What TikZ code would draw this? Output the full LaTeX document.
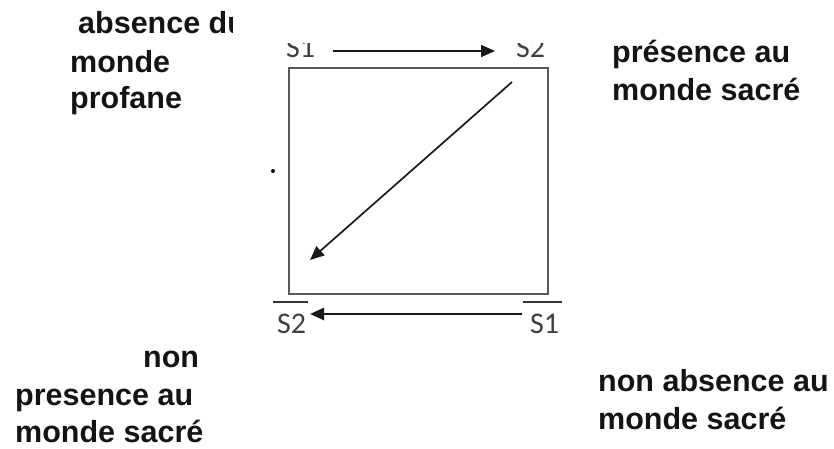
\documentclass[tikz,border=0pt]{standalone}
\usepackage{fontspec}
\setmainfont{Liberation Sans}
\newfontfamily\calfont{Carlito}
\usetikzlibrary{arrows.meta}
\begin{document}
\begin{tikzpicture}[x=1pt,y=-1pt,
  lbl/.style={anchor=base west,inner sep=0pt,font=\fontsize{30.5}{36}\selectfont\bfseries,text=black!92},
  slbl/.style={anchor=base west,inner sep=0pt,font=\calfont\fontsize{30}{34}\selectfont,text=black!75},
  arr/.style={-{Triangle[length=14pt,width=12pt]},line width=1.7pt,draw=black!90},
  boxst/.style={draw=black!65,line width=2.3pt},
  bar/.style={draw=black!80,line width=1.7pt}]
\useasboundingbox (0,0) rectangle (834,448);

% square
\draw[boxst] (289,68) rectangle (548,294);

% top labels (clipped at top as in the reference)
\begin{scope}
  \clip (0,43) rectangle (834,448);
  \node[slbl] (s1t) at (286,57) {S1};
  \node[slbl] (s2t) at (516,57) {S2};
\end{scope}
\coordinate (ta) at (333,51);
\coordinate (tb) at (495,51);
\draw[arr] (ta) -- (tb);

% diagonal arrow
\coordinate (da) at (512,82);
\coordinate (db) at (310,260);
\draw[arr] (da) -- (db);

% bottom labels with bars
\node[slbl] (s2b) at (277,333) {S2};
\node[slbl] (s1b) at (530,333) {S1};
\draw[bar] (273,302) -- (308,302);
\draw[bar] (523,302) -- (562,302);
\coordinate (ba) at (522,314);
\coordinate (bb) at (310,314);
\draw[arr,line width=2.6pt] (ba) -- (bb);

% corner texts
\begin{scope}
  \clip (0,0) rectangle (232,448);
  \node[lbl] (tl1) at (78,33) {absence du};
\end{scope}
\node[lbl] (tl2) at (70,72) {monde};
\node[lbl] (tl3) at (70,108) {profane};

\node[lbl] (tr1) at (612,62) {présence au};
\node[lbl] (tr2) at (612,100) {monde sacré};

\node[lbl] (bl1) at (143,367) {non};
\node[lbl] (bl2) at (15,405) {presence au};
\node[lbl] (bl3) at (15,442) {monde sacré};

\node[lbl] (br1) at (598,391) {non absence au};
\node[lbl] (br2) at (598,429) {monde sacré};

\fill[black] (273,171) circle (2);
\end{tikzpicture}
\end{document}
